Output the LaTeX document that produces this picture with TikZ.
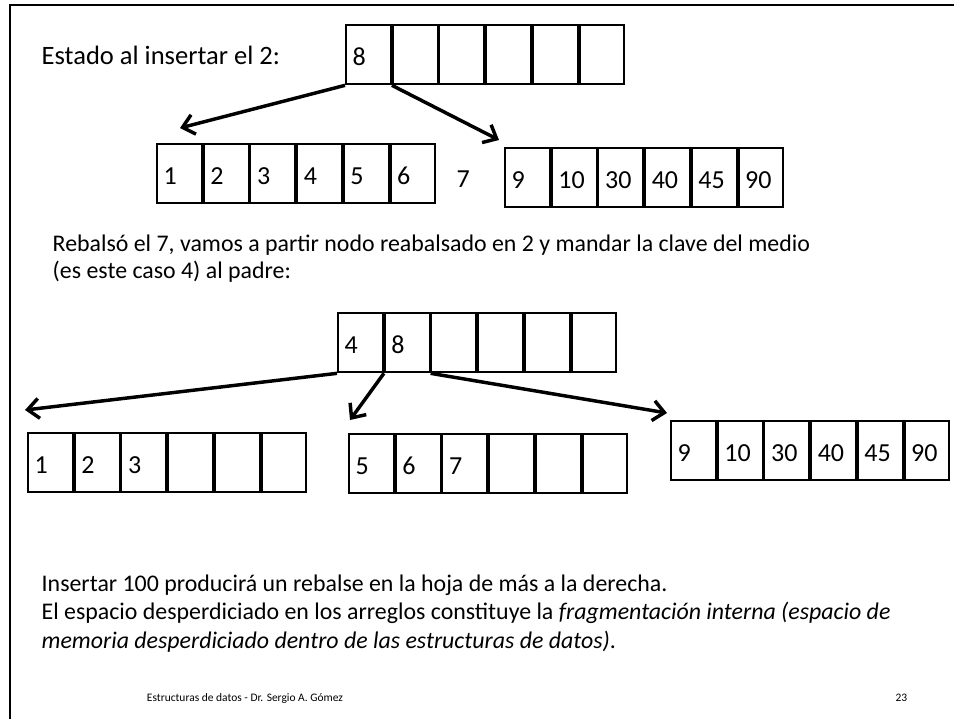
\documentclass[tikz,border=0pt]{standalone}
\usepackage{fontspec}
\setmainfont{Carlito}
\usetikzlibrary{arrows.meta}

\begin{document}
\begin{tikzpicture}[x=0.75pt, y=-0.75pt,
    cell/.style={draw, line width=1.5pt, anchor=north west, inner xsep=5pt, inner ysep=0pt,
                 text width=23.7pt, align=left, minimum height=44.5pt,
                 text height=16.5pt, text depth=0pt, font=\fontsize{19.5}{22}\selectfont},
    txt/.style={anchor=base west, font=\fontsize{17.9}{21.4}\selectfont},
    flecha/.style={line width=2.6pt, -{Straight Barb[length=8.5pt, width=15pt]}}]
    \useasboundingbox (0,0) rectangle (954,719);
    % marco de la diapositiva
    \draw[line width=1.5pt] (10,719) -- (10,5) -- (954,5);

    % Estado al insertar el 2
    \node[txt, font=\fontsize{19.9}{24}\selectfont] (titulo) at (37,64) {Estado al insertar el 2:};
    \foreach \v [count=\i] in {8,{},{},{},{},{}}
        \node[cell] (a\i) at ({345+46.7*(\i-1)},24) {\v};
    \foreach \v [count=\i] in {1,...,6}
        \node[cell] (b\i) at ({156+46.7*(\i-1)},143) {\v};
    \node[txt, font=\fontsize{19.5}{22}\selectfont] (siete) at (452,187) {7};
    \foreach \v [count=\i] in {9,10,30,40,45,90}
        \node[cell] (c\i) at ({504+46.7*(\i-1)},147) {\v};
    \coordinate (pb) at (180,128);
    \coordinate (pc) at (499,140);
    \draw[flecha] (a1.south west) -- (pb);
    \draw[flecha] (a1.south east) -- (pc);

    % se parte el nodo y el 4 sube al padre
    \node[txt] (reb1) at (48,251) {Rebalsó el 7, vamos a partir nodo reabalsado en 2 y mandar la clave del medio};
    \node[txt] (reb2) at (48,278) {(es este caso 4) al padre:};
    \foreach \v [count=\i] in {4,8,{},{},{},{}}
        \node[cell] (d\i) at ({337+46.7*(\i-1)},312) {\v};
    \foreach \v [count=\i] in {1,2,3,{},{},{}}
        \node[cell] (e\i) at ({27+46.7*(\i-1)},432) {\v};
    \foreach \v [count=\i] in {5,6,7,{},{},{}}
        \node[cell] (f\i) at ({348+46.7*(\i-1)},433) {\v};
    \foreach \v [count=\i] in {9,10,30,40,45,90}
        \node[cell] (g\i) at ({670+46.7*(\i-1)},420) {\v};
    \coordinate (pe) at (25,410);
    \coordinate (pf) at (350,420);
    \coordinate (pg) at (667,413);
    \draw[flecha] (d1.south west) -- (pe);
    \draw[flecha] (d1.south east) -- (pf);
    \draw[flecha] (d2.south east) -- (pg);

    % comentario final
    \node[txt] (fin1) at (37,591) {Insertar 100 producirá un rebalse en la hoja de más a la derecha.};
    \node[txt] (fin2) at (37,619) {El espacio desperdiciado en los arreglos constituye la \textit{fragmentación interna (espacio de}};
    \node[txt] (fin3) at (37,648) {\textit{memoria desperdiciado dentro de las estructuras de datos)}.};

    % pie
    \node[anchor=base, font=\fontsize{8.6}{10}\selectfont] (pie) at (245,701) {Estructuras de datos - Dr. Sergio A. Gómez};
    \node[anchor=base east, font=\fontsize{8.6}{10}\selectfont] (num) at (912,701) {23};
\end{tikzpicture}
\end{document}
